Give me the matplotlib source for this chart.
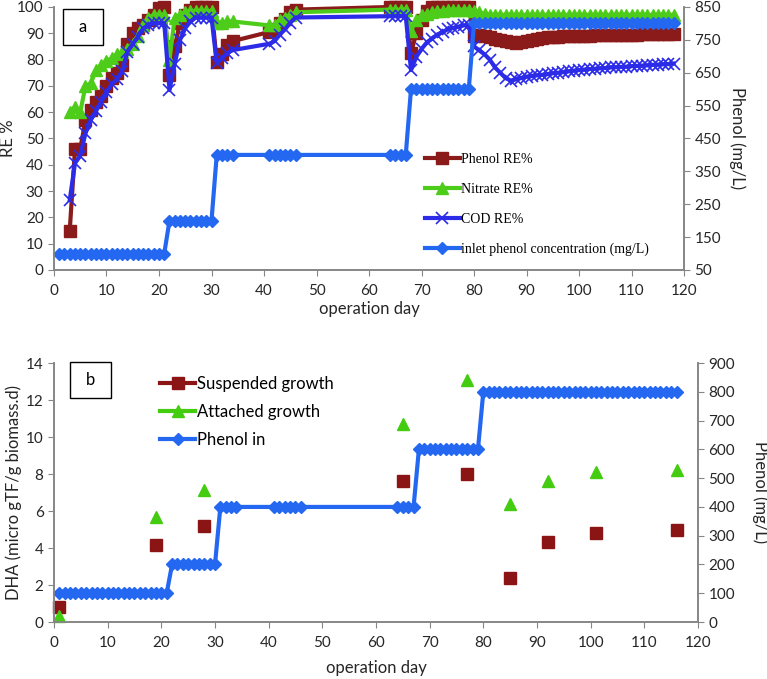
import matplotlib
matplotlib.use('Agg')
import matplotlib.pyplot as plt
from matplotlib.patches import Rectangle

plt.rcParams['font.family'] = ['Lato', 'DejaVu Sans']

# ---- panel a data ----
re_days = list(range(3, 35)) + list(range(41, 47)) + list(range(64, 119))

phenol_re = [15, 46, 46, 57, 61, 64, 66, 70, 73, 75, 78, 86, 90, 92, 93, 95, 97, 99.5, 100,
             74, 85, 94, 97, 99, 100, 100, 100, 100,
             79, 82, 85.5, 87,
             90.5, 91.5, 94, 95.5, 98, 99,
             100, 100, 100, 100,
             82.5, 90, 95, 98.5, 100, 100, 100, 100, 100, 100, 100, 100,
             89, 89.5, 89, 88.5, 88, 87.5, 87, 86.5, 86.3, 86.7, 87.2, 87.6, 88, 88.3, 88.5,
             88.6, 88.7, 88.8, 88.9, 89, 89, 89.1, 89.1, 89.2, 89.2, 89.3, 89.3, 89.4, 89.4,
             89.5, 89.5, 89.5, 89.6, 89.6, 89.7, 89.7, 89.8, 89.8, 89.8]

nitrate_re = [60, 62, 60, 70, 71, 76, 78, 79.5, 80.5, 82, 83, 84, 86, 89, 93, 96, 97, 97, 97,
              80, 96, 97, 98, 98.5, 98.5, 98.5, 98.5, 98.5,
              94, 94, 94.5, 94.5,
              93, 93, 95, 96, 97, 98,
              99, 99, 99, 99,
              91, 95, 97, 97.5, 98, 98.5, 98.5, 99, 99, 99, 99, 99,
              98.5, 98, 97.5, 97, 97, 97, 97, 97, 97, 97, 97, 97, 97, 97, 97, 97, 97, 97, 97,
              97, 97, 97, 97, 97, 97, 97, 97, 97, 97, 97, 97, 97, 97, 97, 97, 97, 97, 97, 97]

cod_re = [26.6, 40.6, 43.5, 52, 57, 60.5, 64, 67.5, 70.7, 72.5, 75.7, 83, 86, 88.7, 91.9, 93, 93.8, 93.8, 93.8,
          68.4, 78.5, 87.5, 92, 94.5, 96, 96, 96, 96,
          78.6, 80.5, 82.5, 83.6,
          86, 87, 89.5, 91.5, 94, 96,
          96.5, 96.5, 96.5, 96.5,
          76, 81, 84, 86.5, 88, 89.5, 90.5, 91.5, 92, 92.5, 93, 93,
          85, 83.5, 82, 80, 77, 75, 73, 72, 72.5, 73, 73.5, 73.8, 74, 74.2, 74.5,
          74.8, 75, 75.2, 75.5, 75.8, 76, 76.2, 76.4, 76.5, 76.7, 76.8, 77, 77.1, 77.2,
          77.3, 77.5, 77.6, 77.7, 77.8, 78, 78.1, 78.2, 78.3, 78.5]

inlet_days = list(range(1, 35)) + list(range(41, 47)) + list(range(64, 119))
inlet_conc = [100] * 21 + [200] * 9 + [400] * 4 + [400] * 6 + [400] * 4 + [600] * 12 + [800] * 39

# ---- panel b data ----
dha_days = [1, 19, 28, 65, 77, 85, 92, 101, 116]
suspended = [0.82, 4.15, 5.2, 7.62, 8.0, 2.37, 4.3, 4.8, 5.0]
attached = [0.35, 5.7, 7.15, 10.7, 13.1, 6.4, 7.65, 8.1, 8.2]

phenol_in_days = list(range(1, 35)) + list(range(41, 47)) + list(range(64, 117))
phenol_in = [100] * 21 + [200] * 9 + [400] * 4 + [400] * 6 + [400] * 4 + [600] * 12 + [800] * 37

spine_c = '#868686'
txt_c = '#262626'
c_phenol = '#8B1A1A'
c_nitrate = '#4DCC1A'
c_cod = '#2B2BE8'
c_inlet = '#2468F2'


def style_axes(ax, ax2):
    for a in (ax, ax2):
        a.spines['top'].set_visible(False)
        for s in ('left', 'right', 'bottom'):
            a.spines[s].set_color(spine_c)
            a.spines[s].set_linewidth(1.2)
        a.tick_params(colors=spine_c, labelcolor=txt_c, labelsize=11, direction='out', length=4)
    ax.tick_params(axis='x', pad=6)


fig = plt.figure(figsize=(7.67, 6.79), dpi=100)

# ---------------- panel a ----------------
ax1 = fig.add_axes([0.0704, 0.6024, 0.8214, 0.3873])
ax1b = ax1.twinx()
style_axes(ax1, ax1b)

l1, = ax1.plot(re_days, phenol_re, '-s', color=c_phenol, lw=3, ms=8, clip_on=False, label='Phenol RE%')
l2, = ax1.plot(re_days, nitrate_re, '-^', color=c_nitrate, lw=3, ms=8, clip_on=False, label='Nitrate RE%')
l3, = ax1.plot(re_days, cod_re, '-x', color=c_cod, lw=3, ms=8, mew=1.2, clip_on=False, label='COD RE%')
l4, = ax1b.plot(inlet_days, inlet_conc, '-D', color=c_inlet, lw=3, ms=6, clip_on=False,
                label='inlet phenol concentration (mg/L)')

ax1.set_xlim(0, 120)
ax1.set_ylim(0, 100)
ax1.set_xticks(range(0, 121, 10))
ax1.set_yticks(range(0, 101, 10))
ax1b.set_ylim(50, 850)
ax1b.set_yticks(range(50, 851, 100))
ax1.set_ylabel('RE %', fontsize=12, color=txt_c, labelpad=1)
ax1b.set_ylabel('Phenol (mg/L)', fontsize=12, color=txt_c, rotation=270, labelpad=18)
ax1.set_xlabel('operation day', fontsize=12, color=txt_c, labelpad=2)

ax1.legend(handles=[l1, l2, l3, l4], loc='upper left', bbox_to_anchor=(0.58, 0.465),
           frameon=False, prop={'family': 'Liberation Serif', 'size': 10},
           handlelength=2.5, handletextpad=0.1, labelspacing=1.2, borderaxespad=0)

ax1.add_patch(Rectangle((0.0143, 0.856), 0.0635, 0.137, transform=ax1.transAxes,
                        fill=False, ec='black', lw=1, clip_on=False))
ax1.text(0.0143 + 0.0635 / 2, 0.856 + 0.137 / 2, 'a', transform=ax1.transAxes,
         ha='center', va='center', fontsize=12)

# ---------------- panel b ----------------
ax2 = fig.add_axes([0.0704, 0.0839, 0.8396, 0.3814])
ax2b = ax2.twinx()
style_axes(ax2, ax2b)

s1, = ax2.plot(dha_days, suspended, 's', color='#8B1515', ms=9, linestyle='none', clip_on=False)
s2, = ax2.plot(dha_days, attached, '^', color='#44CC11', ms=9, linestyle='none', clip_on=False)
s3, = ax2b.plot(phenol_in_days, phenol_in, '-D', color=c_inlet, lw=3, ms=6, clip_on=False)

ax2.set_xlim(0, 120)
ax2.set_ylim(0, 14)
ax2.set_xticks(range(0, 121, 10))
ax2.set_yticks(range(0, 15, 2))
ax2b.set_ylim(0, 900)
ax2b.set_yticks(range(0, 901, 100))
ax2.set_ylabel('DHA (micro gTF/g biomass.d)', fontsize=12, color=txt_c, labelpad=3)
ax2b.set_ylabel('Phenol (mg/L)', fontsize=12, color=txt_c, rotation=270, labelpad=24)
ax2.set_xlabel('operation day', fontsize=12, color=txt_c, labelpad=7)

h1, = ax2.plot([], [], '-s', color='#8B1515', lw=3, ms=9)
h2, = ax2.plot([], [], '-^', color='#44CC11', lw=3, ms=9)
h3, = ax2.plot([], [], '-D', color=c_inlet, lw=3, ms=6)
ax2.legend([h1, h2, h3], ['Suspended growth', 'Attached growth', 'Phenol in'],
           loc='upper left', bbox_to_anchor=(0.155, 0.975), frameon=False,
           prop={'size': 12}, handlelength=2.1, handletextpad=0.1,
           labelspacing=0.7, borderaxespad=0)

ax2.add_patch(Rectangle((0.0248, 0.865), 0.0637, 0.139, transform=ax2.transAxes,
                        fill=False, ec='black', lw=1, clip_on=False))
ax2.text(0.0248 + 0.0637 / 2, 0.865 + 0.139 / 2, 'b', transform=ax2.transAxes,
         ha='center', va='center', fontsize=12)

fig.savefig('out.png', dpi=100)
